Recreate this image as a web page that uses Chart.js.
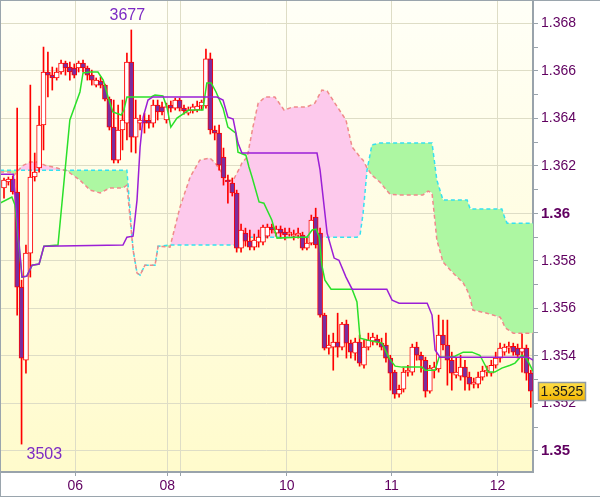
<!DOCTYPE html>
<html><head><meta charset="utf-8">
<script src="https://cdn.jsdelivr.net/npm/chart.js@4.4.0/dist/chart.umd.min.js"></script>
<style>
html,body{margin:0;padding:0;background:#fff;}
#wrap{position:absolute;left:0;top:0;width:600px;height:497px;box-sizing:border-box;border-top:1px solid #9aa5ad;border-left:1px solid #9aa5ad;border-bottom:1px solid #9aa5ad;}
canvas{display:block;}
</style></head><body>
<div id="wrap"><canvas id="c" width="599" height="495"></canvas></div>
<script>
// ---- candles (index = position on time axis) ----
const opens=[1.36107,1.36132,1.36144,1.36090,1.35690,1.35382,1.35833,1.36153,1.36191,1.36372,
1.36595,1.36582,1.36570,1.36595,1.36633,1.36616,1.36612,1.36612,1.36633,1.36612,
1.36582,1.36540,1.36557,1.36540,1.36481,1.36363,1.36224,1.36351,1.36380,1.36637,
1.36321,1.36380,1.36393,1.36393,1.36380,1.36456,1.36448,1.36393,1.36456,1.36443,
1.36477,1.36443,1.36422,1.36431,1.36435,1.36452,1.36452,1.36650,1.36351,1.36338,
1.36237,1.36140,1.36128,1.36086,1.35854,1.35917,1.35883,1.35858,1.35879,1.35879,
1.35904,1.35942,1.35917,1.35934,1.35921,1.35913,1.35904,1.35909,1.35909,1.35854,
1.35875,1.35984,1.35917,1.35572,1.35433,1.35437,1.35458,1.35437,1.35534,1.35454,
1.35412,1.35458,1.35361,1.35437,1.35462,1.35471,1.35454,1.35446,1.35391,1.35332,
1.35239,1.35260,1.35332,1.35332,1.35437,1.35403,1.35382,1.35252,1.35340,1.35345,
1.35488,1.35446,1.35382,1.35319,1.35315,1.35353,1.35311,1.35281,1.35281,1.35311,
1.35332,1.35328,1.35361,1.35391,1.35416,1.35433,1.35441,1.35433,1.35416,1.35433,
1.35328];
const closes=[1.36140,1.36144,1.36090,1.35690,1.35391,1.35833,1.36153,1.36174,1.36372,1.36595,
1.36582,1.36570,1.36595,1.36633,1.36612,1.36595,1.36582,1.36633,1.36612,1.36582,
1.36561,1.36561,1.36540,1.36481,1.36363,1.36224,1.36351,1.36393,1.36637,1.36321,
1.36401,1.36393,1.36380,1.36380,1.36456,1.36427,1.36427,1.36448,1.36443,1.36477,
1.36443,1.36431,1.36435,1.36448,1.36452,1.36469,1.36650,1.36351,1.36338,1.36203,
1.36149,1.36132,1.36086,1.35854,1.35930,1.35883,1.35858,1.35888,1.35900,1.35942,
1.35942,1.35930,1.35934,1.35917,1.35909,1.35921,1.35913,1.35917,1.35854,1.35875,
1.35972,1.35867,1.35572,1.35433,1.35446,1.35458,1.35437,1.35534,1.35454,1.35416,
1.35458,1.35370,1.35437,1.35467,1.35479,1.35458,1.35437,1.35391,1.35328,1.35239,
1.35260,1.35332,1.35340,1.35437,1.35403,1.35382,1.35252,1.35349,1.35353,1.35488,
1.35446,1.35382,1.35328,1.35332,1.35353,1.35311,1.35281,1.35290,1.35311,1.35336,
1.35340,1.35361,1.35391,1.35433,1.35437,1.35441,1.35416,1.35403,1.35433,1.35328,
1.35252];
const highs=[1.36149,1.36153,1.36157,1.36443,1.35719,1.35867,1.36540,1.36254,1.36452,1.36700,
1.36679,1.36616,1.36612,1.36645,1.36641,1.36637,1.36629,1.36641,1.36645,1.36620,
1.36603,1.36570,1.36574,1.36544,1.36490,1.36477,1.36456,1.36477,1.36675,1.36772,
1.36477,1.36414,1.36422,1.36414,1.36477,1.36477,1.36469,1.36464,1.36473,1.36485,
1.36485,1.36456,1.36448,1.36460,1.36473,1.36477,1.36692,1.36675,1.36368,1.36372,
1.36275,1.36161,1.36149,1.36098,1.35955,1.35938,1.35930,1.35913,1.35930,1.35951,
1.35955,1.35955,1.35947,1.35947,1.35938,1.35938,1.35930,1.35938,1.35921,1.35896,
1.35993,1.36022,1.35938,1.35580,1.35488,1.35496,1.35580,1.35542,1.35551,1.35467,
1.35475,1.35488,1.35467,1.35496,1.35496,1.35488,1.35475,1.35496,1.35403,1.35340,
1.35277,1.35349,1.35361,1.35450,1.35458,1.35416,1.35395,1.35361,1.35374,1.35572,
1.35551,1.35551,1.35416,1.35391,1.35403,1.35382,1.35332,1.35307,1.35332,1.35357,
1.35357,1.35382,1.35416,1.35454,1.35450,1.35458,1.35454,1.35450,1.35492,1.35446,
1.35340];
const lows=[1.36064,1.36119,1.36081,1.35572,1.35029,1.35328,1.35732,1.36136,1.36174,1.36267,
1.36490,1.36519,1.36561,1.36586,1.36582,1.36561,1.36570,1.36595,1.36595,1.36561,
1.36540,1.36532,1.36528,1.36473,1.36351,1.36212,1.36212,1.36267,1.36309,1.36258,
1.36254,1.36351,1.36338,1.36359,1.36363,1.36393,1.36414,1.36380,1.36427,1.36435,
1.36431,1.36418,1.36414,1.36422,1.36427,1.36435,1.36443,1.36334,1.36309,1.36182,
1.36119,1.36043,1.36073,1.35837,1.35837,1.35862,1.35846,1.35846,1.35858,1.35867,
1.35896,1.35917,1.35904,1.35896,1.35888,1.35904,1.35888,1.35896,1.35846,1.35846,
1.35867,1.35854,1.35563,1.35425,1.35408,1.35340,1.35395,1.35425,1.35391,1.35391,
1.35382,1.35357,1.35349,1.35425,1.35446,1.35446,1.35425,1.35374,1.35256,1.35222,
1.35227,1.35248,1.35315,1.35319,1.35382,1.35332,1.35227,1.35243,1.35307,1.35332,
1.35425,1.35277,1.35256,1.35307,1.35298,1.35256,1.35256,1.35265,1.35265,1.35298,
1.35315,1.35315,1.35349,1.35374,1.35403,1.35412,1.35403,1.35391,1.35332,1.35298,
1.35184];

// ---- Tenkan-sen (green) vertices ----
const tenkanX=[-0.9,1.8,2.5,4.1,5.2,6.4,8.0,9.1,12.3,15.0,17.3,18.0,19.6,21.4,22.6,23.7,24.8,26.7,27.3,28.0,
33.5,34.4,36.2,37.1,38.0,39.4,42.1,45.3,46.2,47.2,48.3,49.9,51.0,52.8,53.3,55.1,55.8,56.5,58.1,59.2,
61.0,62.2,66.7,69.0,70.2,71.1,71.8,72.4,73.1,74.5,79.3,80.4,81.1,82.7,86.1,87.7,89.1,90.7,95.2,95.9,
98.2,99.1,100.9,102.7,104.6,106.6,108.4,109.6,110.3,111.8,113.4,115.3,116.4,118.0,119.1,120.5];
const tenkanY=[1.36043,1.36069,1.36035,1.35732,1.35736,1.35782,1.35787,1.35862,1.35867,1.36393,1.36511,1.36591,1.36595,1.36595,1.36561,1.36490,1.36427,1.36414,1.36435,1.36490,
1.36490,1.36498,1.36494,1.36448,1.36363,1.36401,1.36435,1.36435,1.36549,1.36549,1.36511,1.36443,1.36363,1.36338,1.36258,1.36245,1.36195,1.36153,1.36048,1.36043,
1.35972,1.35896,1.35900,1.35900,1.35930,1.35934,1.35900,1.35782,1.35719,1.35681,1.35681,1.35627,1.35475,1.35467,1.35454,1.35391,1.35357,1.35353,1.35353,1.35340,
1.35340,1.35395,1.35395,1.35399,1.35416,1.35416,1.35403,1.35361,1.35332,1.35332,1.35349,1.35361,1.35370,1.35403,1.35387,1.35336];

// ---- Kijun-sen (purple) vertices ----
const kijunX=[-0.9,2.1,4.1,5.2,6.4,8.0,9.1,27.1,28.0,29.4,30.3,31.0,31.7,32.8,33.9,48.5,49.9,51.0,52.2,53.3,54.2,
71.3,72.0,73.6,75.2,76.3,77.9,79.3,87.2,88.4,90.0,96.4,97.5,98.2,99.3,119.4,120.5];
const kijunY=[1.36165,1.36165,1.35732,1.35736,1.35782,1.35787,1.35862,1.35867,1.35900,1.35904,1.36056,1.36279,1.36405,1.36477,1.36490,1.36490,1.36477,1.36405,1.36397,1.36296,1.36254,
1.36254,1.36182,1.35917,1.35812,1.35803,1.35732,1.35681,1.35681,1.35635,1.35622,1.35622,1.35572,1.35425,1.35395,1.35395,1.35382];

// ---- Senkou spans (cloud) vertices ----
const spanX=[-0.9,1.4,2.3,4.1,5.9,7.5,9.3,12.1,14.4,17.3,19.6,21.9,24.1,27.1,28.0,29.4,30.3,31.0,32.1,34.4,
35.1,37.8,40.1,42.4,44.6,46.9,48.1,50.8,52.2,53.8,54.2,55.4,56.7,57.9,59.5,61.7,63.8,65.8,69.0,70.8,
72.4,73.6,75.2,77.9,79.3,80.4,81.1,81.8,82.7,83.8,85.6,87.9,90.2,95.4,96.6,97.5,98.6,100.0,102.3,104.6,
105.5,106.2,106.8,110.0,113.0,113.4,114.1,114.6,116.0,120.5];
const spanA=[1.36182,1.36182,1.36182,1.36182,1.36182,1.36182,1.36182,1.36182,1.36182,1.36182,1.36182,1.36182,1.36182,1.36182,1.36182,1.35846,1.35749,1.35740,1.35782,1.35782,
1.35862,1.35867,1.35867,1.35867,1.35867,1.35867,1.35867,1.35867,1.35867,1.35867,1.35896,1.35900,1.35900,1.35900,1.35900,1.35900,1.35900,1.35900,1.35900,1.35900,
1.35900,1.35900,1.35900,1.35900,1.35900,1.35900,1.35909,1.36001,1.36182,1.36288,1.36296,1.36296,1.36296,1.36296,1.36296,1.36296,1.36140,1.36056,1.36056,1.36056,
1.36056,1.36018,1.36018,1.36018,1.36018,1.36018,1.35980,1.35959,1.35959,1.35959];
const spanB=[1.36174,1.36174,1.36161,1.36199,1.36216,1.36216,1.36203,1.36191,1.36178,1.36140,1.36098,1.36086,1.36107,1.36107,1.36119,1.35846,1.35749,1.35740,1.35782,1.35782,
1.35862,1.35858,1.36027,1.36153,1.36224,1.36233,1.36212,1.36140,1.36140,1.36195,1.36212,1.36237,1.36363,1.36464,1.36490,1.36490,1.36435,1.36448,1.36448,1.36464,
1.36519,1.36515,1.36469,1.36393,1.36279,1.36254,1.36237,1.36224,1.36191,1.36161,1.36132,1.36081,1.36077,1.36077,1.36094,1.36086,1.35888,1.35795,1.35749,1.35707,
1.35677,1.35643,1.35593,1.35580,1.35563,1.35551,1.35521,1.35513,1.35496,1.35496];

// ---- axis ticks ----
const xTickPos=[16.24,37.2,40.1,64.4,88.3,112.4];
const xTickLabels=['06','08','','10','11','12'];
const yStep=0.001;

// ---- build chart data from arrays ----
const idx=opens.map((_,i)=>i);
const bodies=idx.map(i=>({x:i,y:[opens[i],closes[i]]}));
const wicks=idx.map(i=>({x:i,y:[lows[i],highs[i]]}));
const pts=(xs,ys)=>xs.map((x,k)=>({x:x,y:ys[k]}));
const bodyFill=idx.map(i=>closes[i]>=opens[i]?'#ffffff':'#7b2d9e');

const FONT='"Liberation Sans", Arial, sans-serif';
const GRID='#deddc6';
const AXIS='#99a3ab';
const LBL='#600060';

const bgPlugin={id:'bg',beforeDraw(chart){
  const {ctx,chartArea:a}=chart;
  const g=ctx.createLinearGradient(0,a.top,0,a.bottom);
  g.addColorStop(0,'#fffff7');g.addColorStop(1,'#fffbcc');
  ctx.save();ctx.fillStyle=g;ctx.fillRect(a.left,a.top,a.right-a.left,a.bottom-a.top);ctx.restore();
}};

const labelPlugin={id:'lbl',afterDatasetsDraw(chart){
  const {ctx,chartArea:a,scales:{x,y}}=chart;
  let hi=0,lo=0;
  highs.forEach((h,i)=>{if(h>highs[hi])hi=i;});
  lows.forEach((l,i)=>{if(l<lows[lo])lo=i;});
  ctx.save();
  ctx.font='16px '+FONT;ctx.fillStyle='#7d2bc4';ctx.textBaseline='alphabetic';
  ctx.textAlign='center';
  ctx.fillText(String(Math.round(highs[hi]*10000)%10000),x.getPixelForValue(hi)-4,y.getPixelForValue(highs[hi])-10);
  ctx.textAlign='left';
  ctx.fillText(String(Math.round(lows[lo]*10000)%10000),x.getPixelForValue(lo)+5,y.getPixelForValue(lows[lo])+15);
  // last price box
  const last=closes[closes.length-1];
  const yc=y.getPixelForValue(last);
  const bx=a.right+5,bw=48,bh=19,by=Math.round(yc)-9;
  const g=ctx.createLinearGradient(0,by,0,by+bh);
  g.addColorStop(0,'#ffe04a');g.addColorStop(1,'#f2b400');
  ctx.fillStyle=g;ctx.fillRect(bx,by,bw,bh);
  ctx.strokeStyle='#8e99a3';ctx.lineWidth=1.5;ctx.strokeRect(bx+0.5,by+0.5,bw-1,bh-1);
  ctx.fillStyle='#1a1a1a';ctx.font='14px '+FONT;ctx.textAlign='center';ctx.textBaseline='middle';
  ctx.fillText(last.toFixed(4),bx+bw/2,by+bh/2+1);
  ctx.restore();
}};

const ds=[];
ds.push({type:'line',label:'Kijun',data:pts(kijunX,kijunY),borderColor:'#9b1fd6',borderWidth:1.5,pointRadius:0,tension:0,fill:false,order:0});
ds.push({type:'line',label:'Tenkan',data:pts(tenkanX,tenkanY),borderColor:'#2ae02a',borderWidth:1.5,pointRadius:0,tension:0,fill:false,order:1});
ds.push({type:'bar',label:'Body',data:bodies,backgroundColor:bodyFill,borderColor:'#ff0000',borderWidth:1,borderSkipped:false,barThickness:5,grouped:false,order:2});
ds.push({type:'bar',label:'Wick',data:wicks,backgroundColor:'#ff0000',borderWidth:0,barThickness:1,grouped:false,order:3});
const spanBIndex=ds.length;
ds.push({type:'line',label:'SpanB',data:pts(spanX,spanB),borderColor:'#f08a8a',borderDash:[4,3],borderWidth:1.5,pointRadius:0,tension:0,fill:false,order:4});
ds.push({type:'line',label:'SpanA',data:pts(spanX,spanA),borderColor:'#35e1f0',borderDash:[4,3],borderWidth:1.5,pointRadius:0,tension:0,
  fill:{target:spanBIndex,above:'#adf7a2',below:'#fdc9ec'},order:5});

new Chart(document.getElementById('c'),{
  type:'bar',
  data:{datasets:ds},
  options:{
    responsive:false,animation:false,devicePixelRatio:1,events:[],
    layout:{padding:0},
    plugins:{legend:{display:false},tooltip:{enabled:false}},
    scales:{
      x:{type:'linear',position:'bottom',min:-0.683,max:120.5,offset:false,
        grid:{offset:false,color:GRID,lineWidth:1,drawTicks:true,tickLength:4,tickColor:AXIS},
        border:{display:true,color:AXIS,width:2},
        afterBuildTicks:(s)=>{s.ticks=xTickPos.map(v=>({value:v}));},
        afterFit:(s)=>{s.height=24;s.paddingLeft=0;s.paddingRight=0;},
        ticks:{autoSkip:false,maxRotation:0,minRotation:0,padding:2,color:LBL,font:{family:FONT,size:14},
          callback:(v,i)=>xTickLabels[i]}
      },
      y:{type:'linear',position:'right',min:1.349116,max:1.368939,
        grid:{color:(c)=>(c.tick&&Math.round(c.tick.value/yStep)%2===0)?GRID:'rgba(0,0,0,0)',
          lineWidth:1,drawTicks:true,tickLength:5,tickColor:AXIS},
        border:{display:true,color:AXIS,width:2},
        afterFit:(s)=>{s.width=67;s.paddingTop=0;s.paddingBottom=0;},
        ticks:{stepSize:yStep,includeBounds:false,autoSkip:false,padding:3,color:LBL,
          font:(c)=>{const m=c.tick?Math.round(c.tick.value/yStep):0;
            return (m===1360||m===1350)?{family:FONT,size:15,weight:'bold'}:{family:FONT,size:14};},
          callback:(v)=>{const m=Math.round(v/yStep);return m%2===0?String(m/1000):'';}}
      }
    }
  },
  plugins:[bgPlugin,labelPlugin]
});
</script>
</body></html>
